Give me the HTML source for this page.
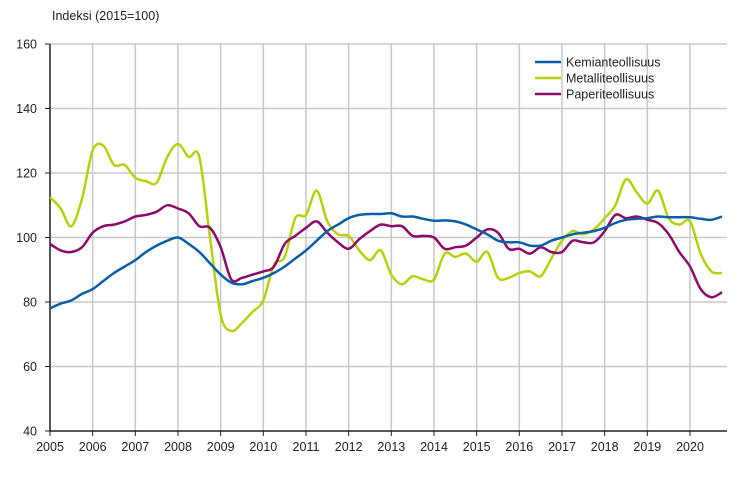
<!DOCTYPE html>
<html><head><meta charset="utf-8"><style>
body{margin:0;background:#fff;}
svg{display:block;font-family:"Liberation Sans",Arial,sans-serif;}
</style></head><body>
<svg id="chart" width="740" height="477" viewBox="0 0 740 477">
<text x="52" y="20" font-size="12.5" fill="#222">Indeksi (2015=100)</text>
<g id="grid"></g><g id="axes"></g><g id="lines"></g>
<g id="legend"></g>
</svg>
<script>
const yTicks=[40,60,80,100,120,140,160];
const years=[2005,2006,2007,2008,2009,2010,2011,2012,2013,2014,2015,2016,2017,2018,2019,2020];
const seriesNames=["Kemianteollisuus","Metalliteollisuus","Paperiteollisuus"];
const seriesColors=["#0a5ea8","#b7d10c","#8c0a6a"];
const kemia=[78,79.5,80.5,82.5,84,86.5,89,91,93,95.5,97.5,99,100,98,95.5,92,88.5,86,85.5,86.5,87.5,89,91,93.5,96,99,102,104,106,107,107.3,107.3,107.5,106.5,106.5,105.8,105.2,105.3,105,104,102.5,101,99,98.5,98.5,97.5,97.5,99,100,101,101.5,102,103,104.5,105.5,105.8,106,106.5,106.3,106.3,106.3,105.8,105.5,106.5];
const metalli=[112.5,109,103.5,112,127,128.5,122.5,122.5,118.5,117.5,117,125,129,125,125,100,76,71,73.5,77,80.5,91.5,94,106,107,114.5,105,101,100.5,96,93,96,88.5,85.5,88,87,87,95,94,95,92.5,95.5,87.5,87.5,89,89.5,88,93.5,99,102,101,102.5,106,110,118,114,110.5,114.5,106,104,105,95,89.5,89];
const paperi=[98,96,95.5,97,101.5,103.5,104,105,106.5,107,108,110,109,107.5,103.5,103,97,87,87.5,88.5,89.5,91,98,100.5,103,105,101.5,98.5,96.5,99.5,102,104,103.5,103.5,100.5,100.5,100,96.5,97,97.5,100,102.5,101.5,96.5,96.5,95,97,95.5,95.5,99,98.5,98.5,102,107,106,106.5,105.5,104.5,101,95.5,91,84,81.5,83];
const allSeries=[kemia,metalli,paperi];
const X0=50,X1=690,Y0=431,Y1=44;
const xScale=t=>X0+(t-2005)*(X1-X0)/15;
const yScale=v=>Y0-(v-40)*(Y0-Y1)/120;
const NS="http://www.w3.org/2000/svg";
function mk(tag,attrs,parent){const e=document.createElementNS(NS,tag);for(const k in attrs)e.setAttribute(k,attrs[k]);parent.appendChild(e);return e;}
const grid=document.getElementById('grid'),axes=document.getElementById('axes'),lines=document.getElementById('lines'),legend=document.getElementById('legend');
yTicks.forEach(v=>{
  const y=yScale(v);
  if(v>40){const g=mk('line',{x1:X0,x2:727,y1:y,y2:y,stroke:'#c8c8c8','stroke-width':1.5},grid);
  
  }
  const tk=mk('line',{x1:X0-5,x2:X0,y1:y,y2:y,stroke:'#222','stroke-width':1},axes);
  
  
  const t=mk('text',{x:X0-13,y:y+4.5,'font-size':12.5,'text-anchor':'end',fill:'#222'},axes);
  t.textContent=v;
  
  
});
years.forEach(yr=>{
  const x=xScale(yr);
  if(yr>2005){const g=mk('line',{x1:x,x2:x,y1:Y1,y2:Y0,stroke:'#c8c8c8','stroke-width':1.5},grid);
  
  }
  const tk=mk('line',{x1:x,x2:x,y1:Y0,y2:Y0+5,stroke:'#222','stroke-width':1},axes);
  
  
  const t=mk('text',{x:x,y:Y0+20,'font-size':12.5,'text-anchor':'middle',fill:'#222'},axes);
  t.textContent=yr;
  
  
});
const ax=mk('path',{d:`M${X0},${Y1}V${Y0}H727`,fill:'none',stroke:'#222','stroke-width':1.5},axes);


function smoothPath(pts){
  let d=`M${pts[0][0].toFixed(1)},${pts[0][1].toFixed(1)}`;
  for(let i=0;i<pts.length-1;i++){
    const p0=pts[Math.max(0,i-1)],p1=pts[i],p2=pts[i+1],p3=pts[Math.min(pts.length-1,i+2)];
    const c1=[p1[0]+(p2[0]-p0[0])/6,p1[1]+(p2[1]-p0[1])/6],c2=[p2[0]-(p3[0]-p1[0])/6,p2[1]-(p3[1]-p1[1])/6];
    d+=`C${c1[0].toFixed(1)},${c1[1].toFixed(1)} ${c2[0].toFixed(1)},${c2[1].toFixed(1)} ${p2[0].toFixed(1)},${p2[1].toFixed(1)}`;
  }
  return d;
}
const order=[1,2,0];
order.forEach(si=>{
  const pts=allSeries[si].map((v,i)=>[xScale(2005+i/4),yScale(v)]);
  const p=mk('path',{d:smoothPath(pts),fill:'none',stroke:seriesColors[si],'stroke-width':2.5,'stroke-linejoin':'round'},lines);
  
  
});
seriesNames.forEach((n,i)=>{
  const y=62+i*16;
  const l=mk('line',{x1:535,x2:561,y1:y,y2:y,stroke:seriesColors[i],'stroke-width':2.5},legend);
  
  
  const t=mk('text',{x:566,y:y+4.5,'font-size':12.5,fill:'#222'},legend);
  t.textContent=n;
  
  
});
</script>
</body></html>
